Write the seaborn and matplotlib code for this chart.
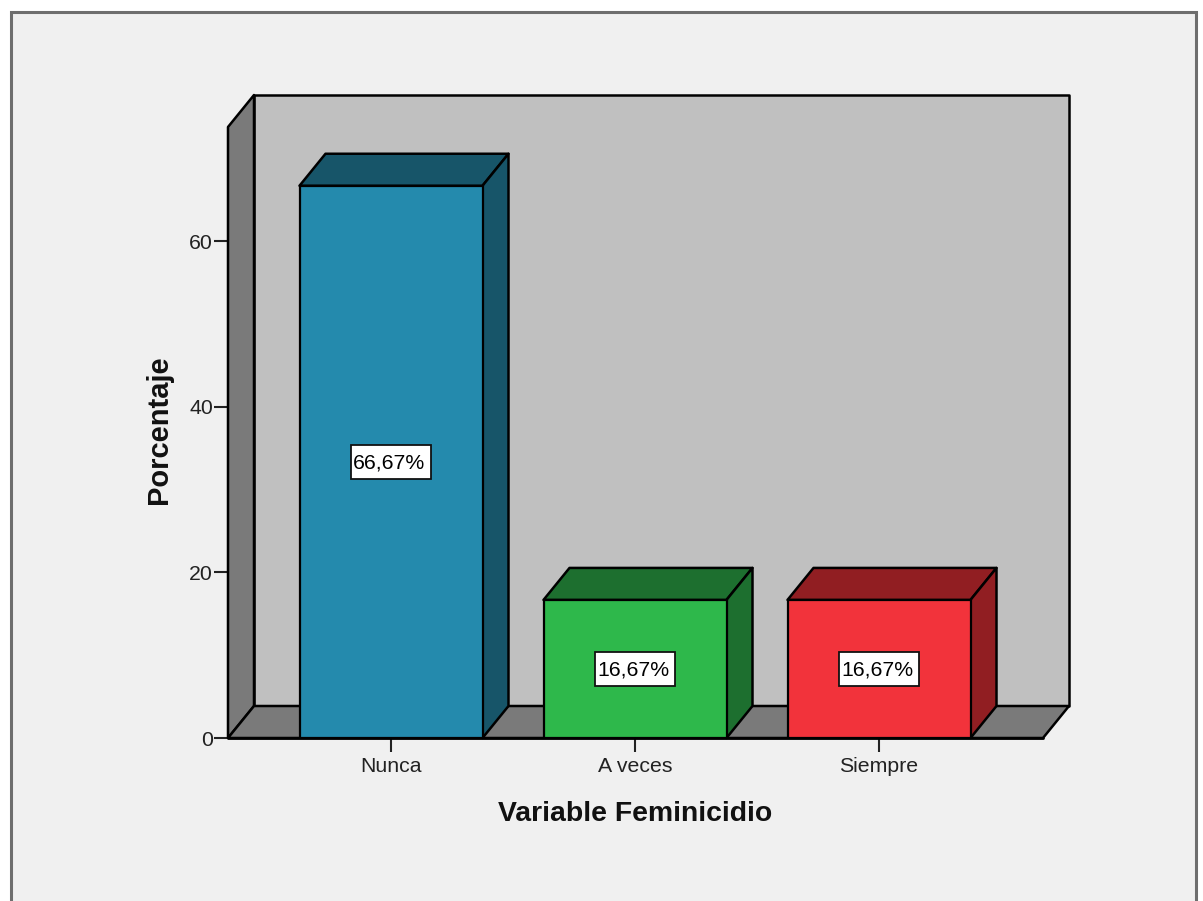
import pandas as pd
import seaborn as sns
import matplotlib.pyplot as plt
from matplotlib.patches import Polygon, Rectangle

categories = ['Nunca', 'A veces', 'Siempre']
percent = [66.67, 16.67, 16.67]
bar_labels = ['66,67%', '16,67%', '16,67%']
front_colors = ['#248aad', '#2eb84b', '#f2333b']
top_colors = ['#175569', '#1d6f2f', '#911e22']
y_ticks = [0, 20, 40, 60]

sns.set_theme(style='white')
plt.rcParams['font.family'] = ['Liberation Sans', 'DejaVu Sans']

W, H = 1203, 901
px_per_unit = 497 / 60
px_per_cat = 244
fig = plt.figure(figsize=(W / 100, H / 100), dpi=100, facecolor='white')
# grey panel, bottom edge runs off the picture
fig.add_artist(Rectangle((10.5 / W, -0.02), 1185.5 / W, 1.02 - 12.5 / H, transform=fig.transFigure,
                         facecolor='#f0f0f0', edgecolor='#6e6e6e', linewidth=2.2, zorder=-1))

ax = fig.add_axes([228 / W, (H - 738) / H, (1043 - 228) / W, (738 - 127) / H])
ax.patch.set_alpha(0)

df = pd.DataFrame({'categoria': categories, 'porcentaje': percent})
sns.barplot(data=df, x='categoria', y='porcentaje', hue='categoria', palette=front_colors,
            legend=False, width=0.75, saturation=1, edgecolor='black', linewidth=1.6,
            zorder=5, ax=ax)

ax.set_xlim(-163 / px_per_cat, 652 / px_per_cat)
ax.set_ylim(0, 611 / px_per_unit)
ax.set_yticks(y_ticks)

# 3d depth of the box, in data units
dx = 26 / px_per_cat
dy = 32 / px_per_unit
x0, x1 = ax.get_xlim()
y0, y1 = ax.get_ylim()


def face(points, color, z):
    ax.add_patch(Polygon(points, closed=True, facecolor=color, edgecolor='black',
                         linewidth=1.8, joinstyle='round', zorder=z, clip_on=False))


face([(x0 + dx, y0 + dy), (x1 + dx, y0 + dy), (x1 + dx, y1 + dy), (x0 + dx, y1 + dy)], '#c0c0c0', 1)
face([(x0, y0), (x0 + dx, y0 + dy), (x0 + dx, y1 + dy), (x0, y1)], '#7a7a7a', 2)
face([(x0, y0), (x1, y0), (x1 + dx, y0 + dy), (x0 + dx, y0 + dy)], '#7a7a7a', 2)

for bar, top_color, label in zip(list(ax.patches)[:3], top_colors, bar_labels):
    left, right = bar.get_x(), bar.get_x() + bar.get_width()
    h = bar.get_height()
    mid = (left + right) / 2
    face([(left, h), (right, h), (right + dx, h + dy), (left + dx, h + dy)], top_color, 4)
    face([(right, 0), (right + dx, dy), (right + dx, h + dy), (right, h)], top_color, 4)
    # label box is 80x34 px
    box_w, box_h = 80 / px_per_cat, 34 / px_per_unit
    ax.add_patch(Rectangle((mid - box_w / 2, h / 2 - box_h / 2), box_w, box_h, facecolor='white',
                           edgecolor='#111111', linewidth=1.3, zorder=7))
    ax.text(mid - 1.5 / px_per_cat, h / 2 - 1.5 / px_per_unit, label, ha='center', va='center',
            fontsize=15.3, color='black', zorder=8)

for side in ax.spines:
    ax.spines[side].set_visible(False)
ax.tick_params(axis='both', length=9.8, width=1.5, color='#222222', labelsize=15.3,
               labelcolor='#222222', left=True, bottom=True)
ax.tick_params(axis='x', pad=3.7)
ax.tick_params(axis='y', pad=1)
ax.plot([x0, x1], [y0, y0], color='black', lw=2, zorder=6, clip_on=False)

ax.set_xlabel('Variable Feminicidio', fontsize=20.4, fontweight='bold', color='#111111')
ax.xaxis.set_label_coords((635 - 228) / 815, -(814 - 738) / 611, transform=ax.transAxes)
ax.xaxis.label.set_verticalalignment('center')
ax.set_ylabel('Porcentaje', fontsize=21, fontweight='bold', color='#111111')
ax.yaxis.set_label_coords(-(228 - 159) / 815, (738 - 430) / 611, transform=ax.transAxes)
ax.yaxis.label.set_verticalalignment('center')

fig.savefig('out.png', dpi=100)
